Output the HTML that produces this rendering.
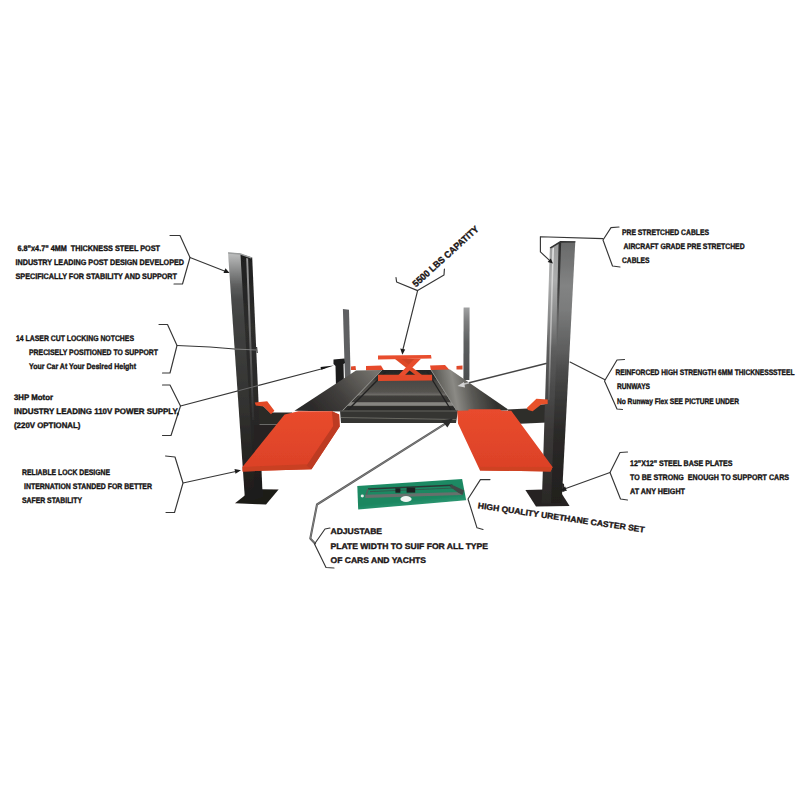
<!DOCTYPE html>
<html>
<head>
<meta charset="utf-8">
<title>4 Post Lift Features</title>
<style>
html,body{margin:0;padding:0;background:#ffffff;}
body{width:800px;height:800px;overflow:hidden;font-family:"Liberation Sans",sans-serif;}
svg{display:block;}
.t{font-family:"Liberation Sans",sans-serif;font-weight:bold;font-size:8px;fill:#151313;stroke:#151313;stroke-width:0.36;text-rendering:geometricPrecision;white-space:pre;}
.tb{font-family:"Liberation Sans",sans-serif;font-weight:bold;font-size:8.2px;fill:#1a1414;stroke:#1a1414;stroke-width:0.35;text-rendering:geometricPrecision;white-space:pre;}
.ln{fill:none;stroke:#363636;stroke-width:1.15;stroke-linejoin:round;stroke-linecap:round;}
.lg{fill:none;stroke:#555555;stroke-width:1.2;stroke-linejoin:round;stroke-linecap:round;}
</style>
</head>
<body>
<svg width="800" height="800" viewBox="0 0 800 800">
<defs>
  <filter id="soft" x="-5%" y="-5%" width="110%" height="110%"><feGaussianBlur stdDeviation="0.45"/></filter>
  <filter id="soft2" x="-5%" y="-5%" width="110%" height="110%"><feGaussianBlur stdDeviation="0.3"/></filter>
  <linearGradient id="postL" gradientUnits="userSpaceOnUse" x1="0" y1="252" x2="0" y2="500">
    <stop offset="0" stop-color="#c2c3c3"/><stop offset="0.036" stop-color="#a6a7a7"/><stop offset="0.089" stop-color="#7e7f7f"/><stop offset="0.137" stop-color="#5c5d5d"/><stop offset="0.194" stop-color="#484949"/><stop offset="0.274" stop-color="#414241"/><stop offset="0.6" stop-color="#333331"/><stop offset="0.8" stop-color="#272624"/><stop offset="1" stop-color="#1d1b1a"/>
  </linearGradient>
  <linearGradient id="postLs" gradientUnits="userSpaceOnUse" x1="0" y1="252" x2="0" y2="500">
    <stop offset="0" stop-color="#1e1e1e"/><stop offset="0.3" stop-color="#2d2d2c"/><stop offset="0.7" stop-color="#282726"/><stop offset="1" stop-color="#1c1b1a"/>
  </linearGradient>
  <linearGradient id="postLstrip" gradientUnits="userSpaceOnUse" x1="0" y1="252" x2="0" y2="420">
    <stop offset="0" stop-color="#a0a0a0"/><stop offset="0.5" stop-color="#6a6a6a"/><stop offset="1" stop-color="#2e2e2e"/>
  </linearGradient>
  <linearGradient id="postR" gradientUnits="userSpaceOnUse" x1="0" y1="241" x2="0" y2="503">
    <stop offset="0" stop-color="#686969"/><stop offset="0.07" stop-color="#727373"/><stop offset="0.17" stop-color="#828383"/><stop offset="0.26" stop-color="#7b7c7c"/><stop offset="0.34" stop-color="#6b6c6c"/><stop offset="0.42" stop-color="#5d5d5d"/><stop offset="0.51" stop-color="#484848"/><stop offset="0.61" stop-color="#393938"/><stop offset="0.72" stop-color="#2c2a29"/><stop offset="1" stop-color="#211f1d"/>
  </linearGradient>
  <linearGradient id="postRs" gradientUnits="userSpaceOnUse" x1="0" y1="241" x2="0" y2="503">
    <stop offset="0" stop-color="#9a9b9b"/><stop offset="0.15" stop-color="#adaeae"/><stop offset="0.3" stop-color="#878888"/><stop offset="0.42" stop-color="#5c5c5c"/><stop offset="0.6" stop-color="#474747"/><stop offset="0.72" stop-color="#3b3938"/><stop offset="1" stop-color="#2a2826"/>
  </linearGradient>
  <linearGradient id="postRd" gradientUnits="userSpaceOnUse" x1="0" y1="243" x2="0" y2="345">
    <stop offset="0" stop-color="#2e2e2e" stop-opacity="1"/><stop offset="0.45" stop-color="#333" stop-opacity="0.9"/><stop offset="1" stop-color="#444" stop-opacity="0"/>
  </linearGradient>
  <linearGradient id="postRstrip" gradientUnits="userSpaceOnUse" x1="0" y1="247" x2="0" y2="400">
    <stop offset="0" stop-color="#e6e6e6"/><stop offset="0.6" stop-color="#b5b5b5"/><stop offset="1" stop-color="#5a5a5a"/>
  </linearGradient>
  <linearGradient id="rampG" gradientUnits="userSpaceOnUse" x1="0" y1="410" x2="0" y2="471">
    <stop offset="0" stop-color="#e94b2d"/><stop offset="1" stop-color="#db4127"/>
  </linearGradient>
  <linearGradient id="runL" gradientUnits="userSpaceOnUse" x1="372" y1="368" x2="318" y2="414">
    <stop offset="0" stop-color="#74726d"/><stop offset="0.3" stop-color="#5a5854"/><stop offset="0.6" stop-color="#403e3c"/><stop offset="1" stop-color="#2c2a29"/>
  </linearGradient>
  <linearGradient id="rearR" gradientUnits="userSpaceOnUse" x1="0" y1="307" x2="0" y2="380">
    <stop offset="0" stop-color="#a2a3a4"/><stop offset="0.2" stop-color="#7c7d7e"/><stop offset="0.5" stop-color="#5c5e5f"/><stop offset="1" stop-color="#4c4e4f"/>
  </linearGradient>
  <linearGradient id="runR" gradientUnits="userSpaceOnUse" x1="438" y1="392" x2="492" y2="382">
    <stop offset="0" stop-color="#5b5a55"/><stop offset="0.3" stop-color="#8b8a85"/><stop offset="0.6" stop-color="#5a5955"/><stop offset="1" stop-color="#33322f"/>
  </linearGradient>
  <linearGradient id="ctr" gradientUnits="userSpaceOnUse" x1="0" y1="370" x2="0" y2="411.5">
    <stop offset="0" stop-color="#262624"/><stop offset="0.2" stop-color="#2e2e2c"/><stop offset="0.27" stop-color="#4a4945"/><stop offset="0.53" stop-color="#55534f"/><stop offset="0.59" stop-color="#6c6a66"/><stop offset="0.64" stop-color="#3e3d3a"/><stop offset="0.76" stop-color="#3a3937"/><stop offset="0.79" stop-color="#868581"/><stop offset="0.85" stop-color="#868581"/><stop offset="0.88" stop-color="#2c2c2a"/><stop offset="1" stop-color="#2a2a28"/>
  </linearGradient>
</defs>
<rect x="0" y="0" width="800" height="800" fill="#ffffff"/>

<!-- ================= LIFT ================= -->
<g id="lift" filter="url(#soft)">
  <!-- rear posts -->
  <polygon points="342.9,309 349,309.7 350.7,380 345,380" fill="#5e6062"/>
  <polygon points="463.6,307.4 469.6,307.4 469.4,380 463.4,380" fill="url(#rearR)"/>
  <!-- motor / pump -->
  <polygon points="333.5,359.5 344.5,358.5 345,363 343.5,364 344,386 336,387 335.5,366 333.5,364" fill="#1b1b1c"/>

  <!-- far-end orange stops -->
  <polygon points="366,366 381,365.5 384,370.5 366,370.5" fill="#e64a2b"/>
  <polygon points="430,365.5 445,365 450,370.5 431,370.5" fill="#e64a2b"/>
  <polygon points="456.5,366 462.5,365.4 462.5,369.5 456.5,369.5" fill="#e0492a"/>
  <polygon points="351,366.5 355.5,366 356,370 351,370" fill="#e0492a"/>

  <!-- runways -->
  <polygon points="356,370.4 382,370 342,411.5 294.5,410.8" fill="url(#runL)"/>
  <polygon points="431,370 450,369.5 507.5,409 507.5,410.6 457,411.5" fill="url(#runR)"/>
  <!-- centre tray -->
  <polygon points="382,370 431,370 457,411.5 342,411.5" fill="url(#ctr)"/>
  <!-- rails -->
  <line x1="382" y1="370" x2="342" y2="411" stroke="#8a8a86" stroke-width="1"/>
  <line x1="431" y1="370" x2="457" y2="411" stroke="#8a8a86" stroke-width="1"/>
  <line x1="385.5" y1="372" x2="348" y2="410" stroke="#232323" stroke-width="1.4"/>
  <line x1="427.5" y1="372" x2="451" y2="410" stroke="#232323" stroke-width="1.4"/>
  <!-- front cross beam of runway set -->
  <polygon points="340,410.5 458,410.5 456,423 341,423" fill="#343433"/>
  <line x1="341" y1="417.5" x2="456" y2="419.5" stroke="#77776f" stroke-width="0.8"/>
  <line x1="340" y1="411" x2="458" y2="411" stroke="#6e6e68" stroke-width="0.8"/>

  <!-- scissor jack -->
  <polygon points="378,374.8 432,374.8 432.2,380.4 378,381" fill="#e24a2a"/>
  <polygon points="399,359 417,359 408,367.5" fill="#cf4526"/>
  <polygon points="395,359 401.6,359 422.6,375.4 416,375.4" fill="#de4a28"/>
  <polygon points="421,358.8 414.4,358.8 398,375.4 404.6,375.4" fill="#e84e2d"/>
  <polygon points="378,355.4 431,355 431.5,358.5 378,359.5" fill="#e84e2d"/>

  <!-- cross beams from posts -->
  <polygon points="254,404 262,405 270,412.4 292,412.6 292,426 254,426" fill="#2a2928"/>
  <line x1="256" y1="424.5" x2="290" y2="424.5" stroke="#7b7b78" stroke-width="0.8"/>
  <polygon points="507,409.4 527.5,408.6 541,404.4 547.4,404 547.4,422.6 520,423.8" fill="#2f2d2c"/>

  <!-- left base plate -->
  <polygon points="235,503.2 246,494.5 262,489.3 278.6,489.6 266,504.6" fill="#1c1a19"/>
  <!-- LEFT FRONT POST : side face then front face -->
  <polygon points="238.5,253.6 252.2,257.6 262.7,497 252.5,500" fill="url(#postLs)"/>
  <polygon points="246.2,258 248.1,258.6 254.2,420 252.2,420" fill="url(#postLstrip)"/>
  <polygon points="228,252.4 240.4,253.6 255.2,500 245,500.5" fill="url(#postL)"/>
  <polygon points="228,252.2 240.6,253.2 252.4,257.4 251,258.4 240.4,254.8 228.4,253.8" fill="#9a9c9c"/>

  <!-- right base plate -->
  <polygon points="525.4,490 544,489.4 562,494 569.6,506 536,506.4" fill="#262423"/>
  <!-- RIGHT FRONT POST -->
  <polygon points="549.9,247.5 562,241.4 553.5,503.5 541.8,503.5" fill="url(#postRs)"/>
  <polygon points="552.4,248.4 554,247.4 549.6,400 548,400" fill="url(#postRstrip)"/>
  <polygon points="560.4,241.4 575.3,241.4 561.6,503 551,503.5" fill="url(#postR)"/>
  <polygon points="558.6,243 561.2,242 557.6,345 556,345" fill="url(#postRd)"/>
  <polygon points="549.7,247.6 560.2,241 575.5,241.2 575.3,242.6 560.6,242.7 550.8,248.6" fill="#323333"/>

  <polygon points="562,483 564,484 564.6,491.5 562.2,492" fill="#2a2827"/>
  <!-- orange lock brackets -->
  <polygon points="254.8,402.4 267.2,401.2 274.4,410.8 271,414.2 263.6,406.4 255.8,405.4" fill="#e34a28"/>
  <polygon points="526.8,408 536.4,398.7 547.7,399.5 547.7,404 541.2,404.4 532.6,411.3 528,410" fill="#e8512c"/>

  <polygon points="254,425 283,425 262,453 254,462" fill="#252322"/>
  <!-- orange ramps -->
  <polygon points="284.6,414.6 298.4,411.3 331.9,411.2 339.1,414.4 339.7,426.5 311.5,469.3 242.6,471.4 242.6,466.8" fill="url(#rampG)"/>
  <polygon points="457.3,410.8 468.5,410.6 468.5,409.3 500,409.3 501.5,410.7 511.2,410.7 552.6,467 550.6,471.4 480,470.5 458,423.5" fill="url(#rampG)"/>
  <polygon points="242.6,467 306.6,464.2 311.5,469.3 242.6,471.4" fill="#c93f23"/>
  <polygon points="331.9,411.2 339.1,414.4 339.7,426.5 311.5,469.3 306.6,465.4 333.2,426" fill="#bd3a21"/>
  <polygon points="480,466.8 552.6,467 550.6,471.4 480,470.5" fill="#cf4324"/>
</g>

<!-- ================= CASTER SET ================= -->
<defs>
  <linearGradient id="mat" gradientUnits="userSpaceOnUse" x1="410" y1="480" x2="413" y2="508">
    <stop offset="0" stop-color="#1d8b65"/><stop offset="0.7" stop-color="#1a8660"/><stop offset="0.9" stop-color="#2a946f"/><stop offset="1" stop-color="#8fc9b3"/>
  </linearGradient>
</defs>
<g id="caster" filter="url(#soft2)">
  <polygon points="357.3,485.9 462.1,478.9 466.2,500.2 358.2,509.6" fill="url(#mat)"/>
  <line x1="368" y1="489" x2="452.4" y2="485.3" stroke="#2c3835" stroke-width="1.5"/>
  <line x1="370" y1="491.6" x2="454" y2="488" stroke="#3b4744" stroke-width="0.7"/>
  <line x1="368" y1="489" x2="365.9" y2="496" stroke="#55605c" stroke-width="1.5"/>
  <polygon points="365.3,494.7 462.3,492.1 462.3,494.9 365.3,497.9" fill="#66706c"/>
  <polygon points="451.4,484.4 464.2,490.6 462.4,495 457.6,492.3 449.6,486.6" fill="#3f4946"/>
  <rect x="395.4" y="488.3" width="5" height="4.4" fill="#1b2120"/>
  <rect x="406.6" y="487.6" width="8.6" height="5" fill="#1b2120"/>
  <ellipse cx="406" cy="499" rx="5.6" ry="3" fill="#f1f4f2"/>
  <ellipse cx="362.3" cy="496" rx="1.6" ry="1.4" fill="#e8eeeb"/>
</g>

<g id="callouts">
  <!-- 1 steel post -->
  <polyline class="ln" points="170,235.5 180,235.5 190,257.5 182.5,284 174,284"/>
  <line class="ln" x1="190" y1="257.5" x2="227" y2="272"/>
  <polygon points="229.5,273 223.5,273 225.5,268.2" fill="#1c1c1c"/>
  <!-- 2 locking notches -->
  <polyline class="ln" points="159,324.5 167.5,324.5 177,345.5 170,373 162.5,373"/>
  <polyline class="ln" points="177,345.5 210,347 234.5,349"/>
  <line x1="234.5" y1="349" x2="256.5" y2="350" stroke="#858585" stroke-width="0.9"/>
  <line x1="256.6" y1="347" x2="257.2" y2="353" stroke="#2a2a2a" stroke-width="1.1"/>
  <!-- 3 motor -->
  <polyline class="ln" points="162.5,385 170,385 180.5,406 171,435.5 162.5,435.5"/>
  <line class="ln" x1="180.5" y1="406" x2="324" y2="368.2"/>
  <polygon points="334,365.5 320.5,366.9 321.3,369.8" fill="#141414"/>
  <line x1="238.5" y1="390.7" x2="259.5" y2="385.2" stroke="#707070" stroke-width="0.9"/>
  <!-- 4 lock -->
  <polyline class="ln" points="165.5,456 175,457 183,483 174.5,512.5 166,512.5"/>
  <line class="ln" x1="183" y1="483" x2="238" y2="471"/>
  <polygon points="241,470.3 235.5,473.8 234.5,469" fill="#1c1c1c"/>
  <!-- 5 adjustable plate -->
  <polyline points="444.6,424.2 317,504.5 310.3,538.5 315,543.5" fill="none" stroke="#575757" stroke-width="2.1" stroke-linejoin="round" stroke-linecap="round"/>
  <polyline points="444.6,424.2 317,504.5 310.3,538.5 315,543.5" fill="none" stroke="#9a9a9a" stroke-width="0.6" stroke-linejoin="round" stroke-linecap="round"/>
  <polygon points="453,418.6 441.5,420.6 447.4,427.4" fill="#2b2b2b"/>
  <polyline class="ln" points="330,528 325,529 314.5,544 326,567.5 334,568"/>
  <!-- 6 capacity -->
  <polyline class="ln" points="396,277.5 396.6,282 417.6,290.6 444,275 444.4,269"/>
  <line class="ln" x1="417.6" y1="290.6" x2="402.8" y2="350"/>
  <polygon points="402.4,354.8 400.2,348.4 405.2,349.6" fill="#1c1c1c"/>
  <!-- 7 cables -->
  <polyline class="ln" points="619,227 611,227.6 603,240 612.5,266 620,267"/>
  <polyline class="ln" points="603,238.6 540.4,236.7 540.4,251.9 550.6,261.4"/>
  <polygon points="553,263.6 547.6,262 550.8,258.4" fill="#1c1c1c"/>
  <!-- 8 runways -->
  <polyline class="ln" points="624.5,359.5 617,360 604.5,381 617,409 622.5,409.5"/>
  <polyline class="ln" points="604.5,379.5 570,362"/>
  <line x1="546" y1="363.5" x2="469.2" y2="382.7" stroke="#454545" stroke-width="1.6" stroke-linecap="round"/>
  <line x1="469.2" y1="382.7" x2="462" y2="384.5" stroke="#c4c4c4" stroke-width="1.6"/>
  <polygon points="457.5,386 464,382 465,387.4" fill="#d4d4d4"/>
  <!-- 9 base plates -->
  <polyline class="ln" points="627.5,452 620,452.5 610,472.5 620.5,499 627.5,500"/>
  <line class="ln" x1="610" y1="472.5" x2="563" y2="489.5"/>
  <polygon points="560,490.6 565.2,486.6 566.8,491" fill="#1c1c1c"/>
  <!-- 10 caster -->
  <polyline class="ln" points="490,479.6 480.4,479.6 468,499 477,527.8 483,529.5"/>
</g>
<g id="labels">
  <text class="t" x="17.5" y="250.5" textLength="142.5" lengthAdjust="spacingAndGlyphs" xml:space="preserve">6.8&quot;x4.7&quot; 4MM  THICKNESS STEEL POST</text>
  <text class="t" x="15.5" y="264.5" textLength="168.5" lengthAdjust="spacingAndGlyphs" xml:space="preserve">INDUSTRY LEADING POST DESIGN DEVELOPED</text>
  <text class="t" x="15.5" y="279" textLength="161.5" lengthAdjust="spacingAndGlyphs" xml:space="preserve">SPECIFICALLY FOR STABILITY AND SUPPORT</text>
  <text class="t" x="16" y="340.5" textLength="118" lengthAdjust="spacingAndGlyphs" xml:space="preserve">14 LASER CUT LOCKING NOTCHES</text>
  <text class="t" x="29" y="355" textLength="129" lengthAdjust="spacingAndGlyphs" xml:space="preserve">PRECISELY POSITIONED TO SUPPORT</text>
  <text class="t" x="29" y="369" textLength="107" lengthAdjust="spacingAndGlyphs" xml:space="preserve">Your Car At Your Desired Height</text>
  <text class="t" x="14" y="399.5" textLength="39" lengthAdjust="spacingAndGlyphs" xml:space="preserve">3HP Motor</text>
  <text class="t" x="14" y="414" textLength="165" lengthAdjust="spacingAndGlyphs" xml:space="preserve">INDUSTRY LEADING 110V POWER SUPPLY,</text>
  <text class="t" x="14" y="428" textLength="66.5" lengthAdjust="spacingAndGlyphs" xml:space="preserve">(220V OPTIONAL)</text>
  <text class="t" x="22" y="474.5" textLength="88" lengthAdjust="spacingAndGlyphs" xml:space="preserve">RELIABLE LOCK DESIGNE</text>
  <text class="t" x="24" y="489" textLength="128" lengthAdjust="spacingAndGlyphs" xml:space="preserve">INTERNATION STANDED FOR BETTER</text>
  <text class="t" x="22" y="503" textLength="60" lengthAdjust="spacingAndGlyphs" xml:space="preserve">SAFER STABILITY</text>
  <text class="tb" x="330.5" y="534" textLength="51.5" lengthAdjust="spacingAndGlyphs" xml:space="preserve">ADJUSTABE</text>
  <text class="tb" x="330.5" y="549" textLength="157.5" lengthAdjust="spacingAndGlyphs" xml:space="preserve">PLATE WIDTH TO SUIF FOR ALL TYPE</text>
  <text class="tb" x="330.5" y="563" textLength="95.5" lengthAdjust="spacingAndGlyphs" xml:space="preserve">OF CARS AND YACHTS</text>
  <text class="t" x="622" y="234.5" textLength="87" lengthAdjust="spacingAndGlyphs" xml:space="preserve">PRE STRETCHED CABLES</text>
  <text class="t" x="623.6" y="249" textLength="121" lengthAdjust="spacingAndGlyphs" xml:space="preserve">AIRCRAFT GRADE PRE STRETCHED</text>
  <text class="t" x="622" y="263.3" textLength="27.4" lengthAdjust="spacingAndGlyphs" xml:space="preserve">CABLES</text>
  <text class="t" x="615.5" y="375" textLength="179" lengthAdjust="spacingAndGlyphs" xml:space="preserve">REINFORCED HIGH STRENGTH 6MM THICKNESSSTEEL</text>
  <text class="t" x="617" y="389" textLength="33" lengthAdjust="spacingAndGlyphs" xml:space="preserve">RUNWAYS</text>
  <text class="t" x="617" y="403.5" textLength="122" lengthAdjust="spacingAndGlyphs" xml:space="preserve">No Runway Flex SEE PICTURE UNDER</text>
  <text class="t" x="630" y="466" textLength="102.5" lengthAdjust="spacingAndGlyphs" xml:space="preserve">12&quot;X12&quot; STEEL BASE PLATES</text>
  <text class="t" x="630" y="480" textLength="159" lengthAdjust="spacingAndGlyphs" xml:space="preserve">TO BE STRONG  ENOUGH TO SUPPORT CARS</text>
  <text class="t" x="630" y="494" textLength="55" lengthAdjust="spacingAndGlyphs" xml:space="preserve">AT ANY HEIGHT</text>
  <text class="tb" style="font-size:9.3px" transform="translate(416,287.4) rotate(-42.2)" x="0" y="0" textLength="85.5" lengthAdjust="spacingAndGlyphs">5500 LBS CAPATITY</text>
  <text class="tb" transform="translate(477.5,508.2) rotate(8.3)" x="0" y="0" textLength="168.5" lengthAdjust="spacingAndGlyphs">HIGH QUALITY URETHANE CASTER SET</text>
</g>
</svg>
</body>
</html>
